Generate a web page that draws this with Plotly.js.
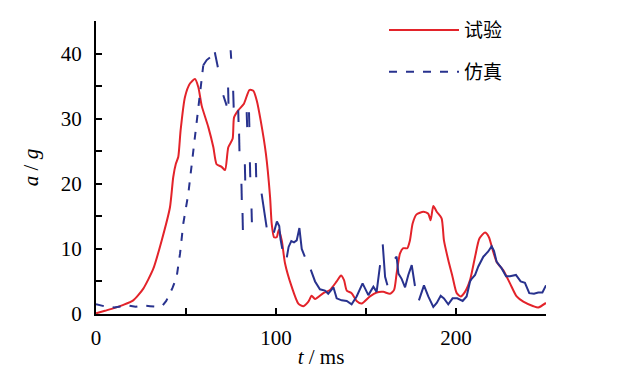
<!DOCTYPE html>
<html>
<head>
<meta charset="utf-8">
<script src="https://cdn.plot.ly/plotly-3.0.1.min.js"></script>
<style>html,body{margin:0;padding:0;background:#fff;}#chart{width:628px;height:376px;}</style>
</head>
<body>
<div id="chart"></div>
<script>
// 试验 (experiment)
const expT = [0, 5, 10, 15.2, 20.7, 26.3, 31.9, 36.5, 41.1, 42.9, 44.4, 45.7, 47, 49.4, 52.2, 55, 56.9, 58.7, 62.4, 65.2, 67, 69.8, 71.7, 73.5, 75.9, 76.7, 79.1, 82.2, 85.2, 87.4, 89.3, 91.5, 94.4, 96.7, 97.6, 98.9, 100.4, 101.5, 103.2, 105, 108.7, 112.4, 115.2, 118, 119.8, 121.7, 126.3, 130, 133.7, 136.1, 137.8, 139.3, 142, 144.8, 147.6, 152.2, 155.9, 159.6, 163.3, 165.6, 167, 168.9, 170.7, 172.9, 174.4, 175.9, 178.1, 181.9, 184.6, 185.9, 187.4, 189.3, 192, 193.3, 195.7, 198.1, 200.4, 202.6, 205, 207.8, 210.6, 213, 216.1, 218.3, 220.4, 222.6, 226.3, 230, 233.7, 237.4, 243, 245.7, 250];
const expA = [0.1, 0.5, 0.9, 1.4, 2.1, 3.9, 7.0, 11.3, 16.4, 21.0, 23.1, 24.1, 28.2, 33.3, 35.4, 36.1, 34.8, 32.0, 28.7, 25.6, 23.0, 22.6, 22.1, 25.6, 26.9, 30.2, 31.3, 32.3, 34.4, 34.3, 32.8, 29.7, 24.6, 18.0, 13.9, 11.8, 11.8, 12.9, 11.3, 7.8, 4.2, 1.6, 1.2, 1.9, 2.8, 2.3, 3.2, 3.7, 5.0, 5.9, 5.2, 3.6, 3.2, 2.0, 1.6, 2.7, 3.3, 3.4, 3.1, 3.7, 6.2, 9.3, 10.1, 10.1, 11.3, 13.9, 15.3, 15.7, 15.4, 14.4, 16.6, 15.7, 14.7, 11.3, 8.3, 5.7, 3.2, 2.7, 3.4, 5.2, 8.8, 11.6, 12.5, 11.8, 9.8, 8.0, 6.7, 4.7, 2.7, 1.9, 1.2, 1.0, 1.7];

// 仿真 (simulation), rising part drawn dashed
const simRiseT = [0, 3, 6, 10, 14, 18, 22, 26, 30, 34, 37, 39, 40.2, 42.5, 44.8, 46.7, 48.5, 51.3, 53.2, 55.4, 57.4, 59.6];
const simRiseA = [1.5, 1.3, 1.1, 1.0, 1.2, 1.3, 1.1, 1.3, 1.2, 1.1, 1.3, 2.0, 2.7, 4.0, 5.7, 9.3, 13.9, 18.5, 23.0, 28.5, 33.5, 38.2];

// 仿真 (simulation), remaining visible pieces (null = gap)
const simRestT = [59.6, 61.5, 63.3, null, 66, 66.8, 67.7, null, 70.7, 71.6, 72.6, null, 73.4, 73.6, null, 74.8, 75.1, null, 76.2, 76.5, null,
  79.0, 79.2, null, 79.5, 79.7, null, 80.8, 81.0, null, 81.4, 81.6, null, 82.7, 82.9, null, 83.7, 84.0, null, 85.0, 85.2, null,
  85.5, 85.7, null, 86.4, 86.6, null, 88.8, 89.0, null, 92.0, 93.4, 94.8, null,
  98.8, 99.5, 100.5, 101.8, 102.5, 103.5, null,
  106, 107, 108.5, 110, 111.5, 113, 114.3, 116, null,
  119.3, 121.7, 124.4, 127.2, 129, 131.9, 133.7, 136.5, 139.3, 142, 144.8, 148.1, 151.3, 154.1, 155.9, 157.8, null,
  159.3, 160.6, 161.9, null,
  166.1, 167, 168, 169.8, 171.7, 173.5, 175.4, 177.2, null,
  179.4, 182.2, 184.6, 187.4, 189.3, 191.5, 193.3, 195.7, 198.1, 200.7, 203.7, 205.9, 207.8, 208.7, 210.6, 212.4, 215.2, 217.9, 219.8, 221.1, 222.6, 225.4, 227.8, 230, 233.3, 235.9, 238.3, 240.7, 243.3, 245.7, 248, 250];
const simRestA = [38.2, 39.0, 39.4, null, 40.2, 39.0, 37.9, null, 33.6, 32.7, 32.0, null, 34.8, 32.3, null, 40.5, 39.2, null, 34.3, 31.7, null,
  31.3, 29.5, null, 27.7, 25.0, null, 20.0, 17.5, null, 15.5, 12.9, null, 23.0, 20.5, null, 31.0, 28.7, null, 31.0, 28.7, null,
  23.3, 21.0, null, 16.2, 14.1, null, 23.2, 21.0, null, 18.5, 15.8, 13.3, null,
  12.5, 13.3, 14.2, 13.5, 11.5, 10.0, null,
  8.7, 10.3, 11.2, 11.0, 11.3, 13.2, 10.0, 8.8, null,
  6.8, 5.0, 3.8, 3.6, 3.1, 4.1, 2.4, 2.1, 2.0, 1.5, 2.7, 4.7, 2.9, 4.2, 3.4, 7.5, null,
  10.7, 5.7, 4.4, null,
  8.5, 8.8, 6.2, 5.4, 4.1, 6.0, 7.5, 4.3, null,
  2.1, 4.4, 2.7, 1.1, 1.7, 2.8, 2.4, 1.5, 2.4, 2.4, 2.0, 2.7, 5.0, 5.4, 6.0, 7.3, 8.8, 9.6, 10.4, 9.7, 8.0, 7.0, 5.8, 5.8, 6.0, 5.0, 4.8, 3.2, 3.1, 3.3, 3.3, 4.4];

const xTickVals = [0, 50, 100, 150, 200, 250];
const xTickText = ['0', '', '100', '', '200', ''];
const yTickVals = [0, 5, 10, 15, 20, 25, 30, 35, 40, 45];
const yTickText = ['0', '', '10', '', '20', '', '30', '', '40', ''];

const RED = '#e3232a';
const BLUE = '#28328e';
const serif = 'Liberation Serif, Times New Roman, serif';
const cjk = 'Noto Sans CJK SC, sans-serif';

const traces = [
  {x: expT, y: expA, type: 'scatter', mode: 'lines', name: '试验', legendgroup: 'a',
   line: {color: RED, width: 2, shape: 'spline', smoothing: 0.6}},
  {x: simRiseT, y: simRiseA, type: 'scatter', mode: 'lines', name: '仿真', legendgroup: 'b',
   line: {color: BLUE, width: 2, dash: '8px,9px'}},
  {x: simRestT, y: simRestA, type: 'scatter', mode: 'lines', name: '仿真', legendgroup: 'b', showlegend: false,
   connectgaps: false, line: {color: BLUE, width: 2}}
];

const layout = {
  width: 628, height: 376,
  margin: {l: 96, r: 82, t: 20, b: 62},
  paper_bgcolor: '#fff', plot_bgcolor: '#fff',
  showlegend: true,
  legend: {x: 0.64, y: 1.03, xanchor: 'left', yanchor: 'top', bgcolor: 'rgba(0,0,0,0)',
    font: {family: cjk, size: 19, color: '#000'}, itemwidth: 70, traceorder: 'grouped', tracegroupgap: 14},
  xaxis: {range: [0, 250], showgrid: false, zeroline: false, showline: true, linecolor: '#000', linewidth: 2,
    ticks: 'inside', ticklen: 6, tickwidth: 2, tickcolor: '#000',
    tickvals: xTickVals, ticktext: xTickText, ticklabelstandoff: 4,
    tickfont: {family: serif, size: 21, color: '#000'},
    title: {text: '<i>t</i> / ms', font: {family: serif, size: 21, color: '#000'}, standoff: 0}},
  yaxis: {range: [0, 45], showgrid: false, zeroline: false, showline: true, linecolor: '#000', linewidth: 2,
    ticks: 'inside', ticklen: 6, tickwidth: 2, tickcolor: '#000',
    tickvals: yTickVals, ticktext: yTickText, ticklabelstandoff: 8,
    tickfont: {family: serif, size: 21, color: '#000'},
    title: {text: '<i>a</i> / <i>g</i>', font: {family: serif, size: 21, color: '#000'}, standoff: 16}}
};

Plotly.newPlot('chart', traces, layout, {staticPlot: true, displayModeBar: false});
</script>
</body>
</html>
